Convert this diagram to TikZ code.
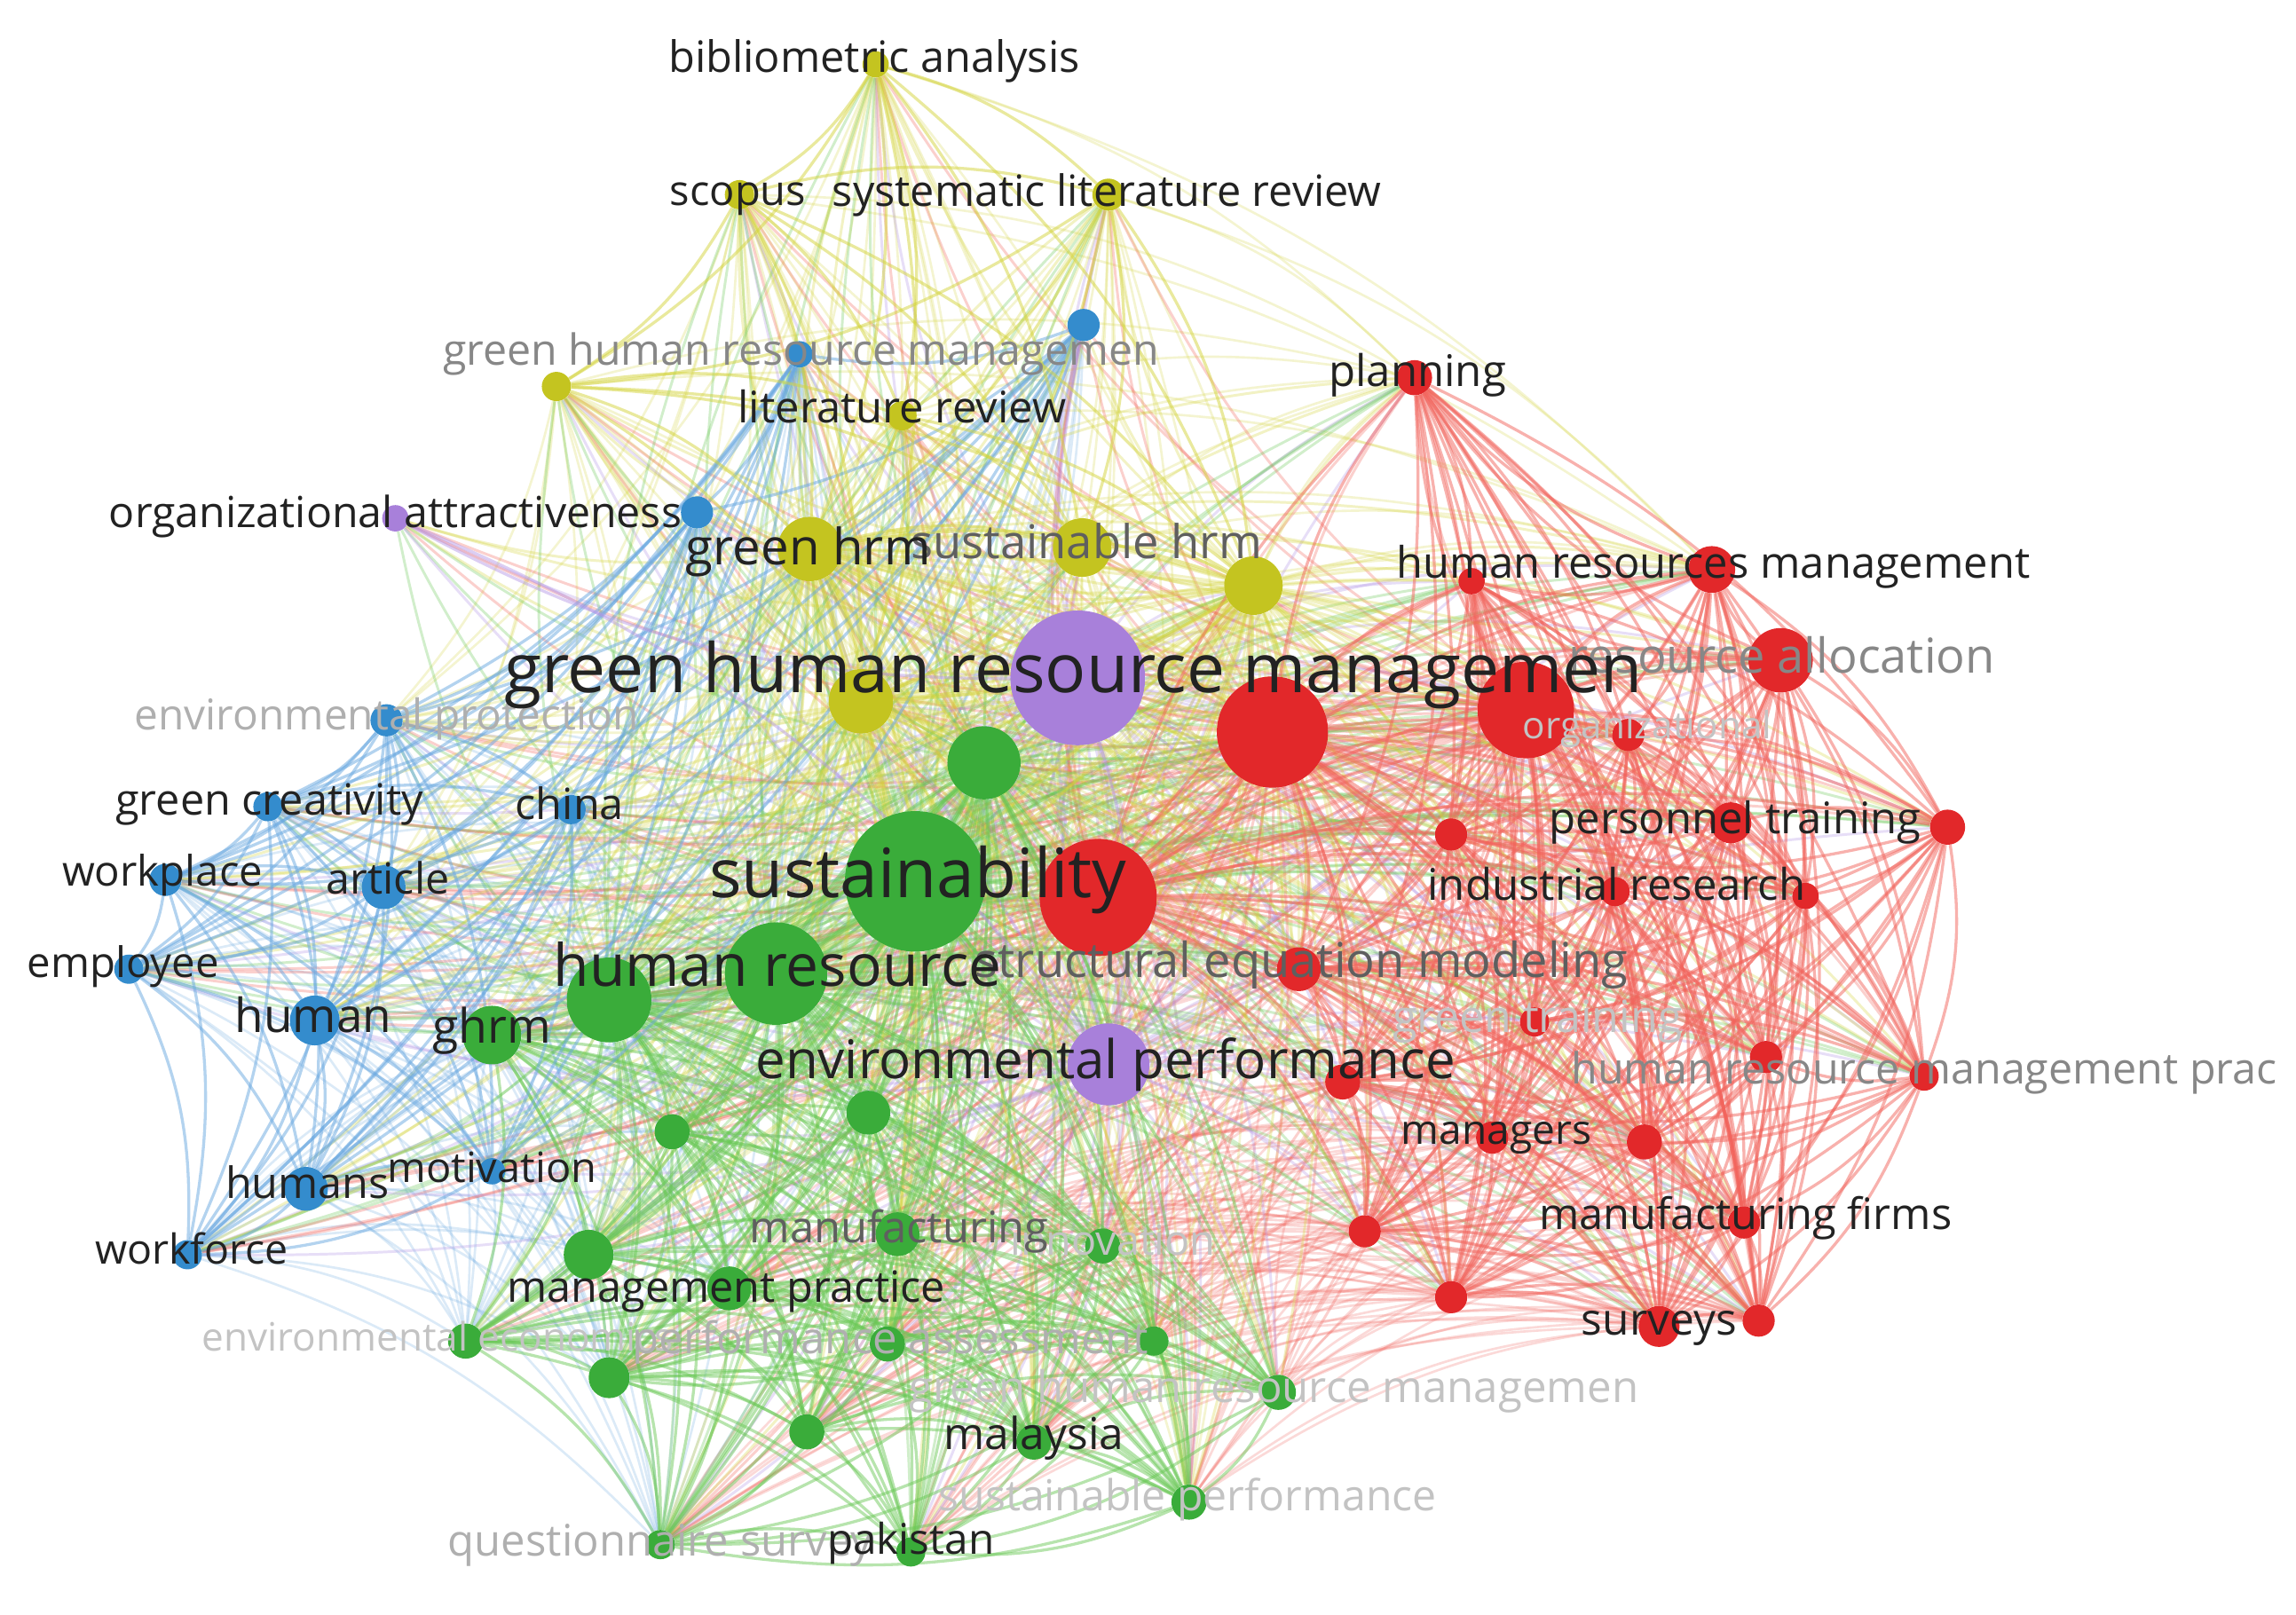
\documentclass[tikz,border=0pt]{standalone}
\usepackage{fontspec}
\usepackage{graphicx}
\setmainfont{Open Sans}
\pgfdeclarelayer{bg}
\pgfdeclarelayer{edges}
\pgfdeclarelayer{labels}
\pgfsetlayers{bg,edges,main,labels}
\definecolor{cR}{RGB}{226,40,42}
\definecolor{cG}{RGB}{58,172,58}
\definecolor{cB}{RGB}{52,140,205}
\definecolor{cY}{RGB}{196,196,32}
\definecolor{cP}{RGB}{168,128,218}
\definecolor{eR}{RGB}{242,100,92}
\definecolor{eG}{RGB}{105,200,85}
\definecolor{eB}{RGB}{105,168,225}
\definecolor{eY}{RGB}{212,212,60}
\definecolor{eP}{RGB}{178,148,230}
\definecolor{tDark}{RGB}{34,34,34}
\definecolor{tMid}{RGB}{95,95,95}
\definecolor{tGrey}{RGB}{135,135,135}
\definecolor{tLight}{RGB}{175,175,175}
\definecolor{tFaint}{RGB}{195,195,195}
\tikzset{
  kw/.style={circle,inner sep=0pt,draw=none},
  rn/.style={kw,fill=cR},
  gn/.style={kw,fill=cG},
  bn/.style={kw,fill=cB},
  yn/.style={kw,fill=cY},
  pn/.style={kw,fill=cP},
  rE/.style={draw=eR,line width=2pt,draw opacity=0.5},
  gE/.style={draw=eG,line width=2pt,draw opacity=0.48},
  bE/.style={draw=eB,line width=2pt,draw opacity=0.5},
  yE/.style={draw=eY,line width=2pt,draw opacity=0.5},
  pE/.style={draw=eP,line width=2pt,draw opacity=0.45},
  hubE/.style={line width=1.8pt,draw opacity=0.3},
  crossE/.style={line width=1.6pt,draw opacity=0.24},
  lbl/.style={inner sep=0pt,text=tDark},
}
\def\Ylist{ya,yb,yc,yd,ye,yf,yg,yh,yi}
\def\Plist{pa,pb,pc}
\def\Blist{ba,bb,bc,bd,be,bf,bg,bh,bi,bj,bk,bl,bm}
\def\Glist{ga,gb,gc,gd,ge,gf,gg,gh,gi,gj,gk,gl,gm,gn,go,gp,gq,gr,gs,gt,gu}
\def\Rlist{ra,rb,rc,rd,re,rf,rg,rh,ri,rj,rk,rl,rm,rn,ro,rp,rq,rr,rs,rt,ru,rv,rw,rx,ry}
\def\Alllist{ya,yb,yc,yd,ye,yf,yg,yh,yi,pa,pb,pc,ba,bb,bc,bd,be,bf,bg,bh,bi,bj,bk,bl,bm,ga,gb,gc,gd,ge,gf,gg,gh,gi,gj,gk,gl,gm,gn,go,gp,gq,gr,gs,gt,gu,ra,rb,rc,rd,re,rf,rg,rh,ri,rj,rk,rl,rm,rn,ro,rp,rq,rr,rs,rt,ru,rv,rw,rx,ry}
\def\RlowList{rr,rs,rt,ru,rv,rw,rx,ry,rn,ro}
\def\GlowList{gi,gk,gm,gn,go,gp,gq,gr,gs,gt,gu,gj}
\newcommand\lab[5]{\node[lbl,text=#5] at (#1,#2) {\resizebox{#3pt}{!}{\vphantom{hg}#4}};}
\begin{document}
\begin{tikzpicture}[x=1pt,y=-1pt]
\begin{pgfonlayer}{bg}
\fill[white] (0,0) rectangle (1568,1103);
\end{pgfonlayer}
\useasboundingbox (0,0) rectangle (1568,1103);
% ---------- nodes ----------
% yellow
\node[yn,minimum size=18pt] (ya) at (598,44) {};
\node[yn,minimum size=20pt] (yb) at (505,133) {};
\node[yn,minimum size=22pt] (yc) at (757,133) {};
\node[yn,minimum size=20pt] (yd) at (380,264) {};
\node[yn,minimum size=20pt] (ye) at (616,284) {};
\node[yn,minimum size=44pt] (yf) at (553,375) {};
\node[yn,minimum size=40pt] (yg) at (739,374) {};
\node[yn,minimum size=40pt] (yh) at (856,400) {};
\node[yn,minimum size=44pt] (yi) at (588,479) {};
% purple
\node[pn,minimum size=92pt] (pa) at (736,463) {};
\node[pn,minimum size=18pt] (pb) at (270,354) {};
\node[pn,minimum size=56pt] (pc) at (757,727) {};
% blue
\node[bn,minimum size=22pt] (ba) at (740,222) {};
\node[bn,minimum size=18pt] (bb) at (546,242) {};
\node[bn,minimum size=22pt] (bc) at (476,350) {};
\node[bn,minimum size=22pt] (bd) at (264,492) {};
\node[bn,minimum size=20pt] (be) at (183,551) {};
\node[bn,minimum size=20pt] (bf) at (390,553) {};
\node[bn,minimum size=22pt] (bg) at (113,601) {};
\node[bn,minimum size=30pt] (bh) at (262,606) {};
\node[bn,minimum size=20pt] (bi) at (88,662) {};
\node[bn,minimum size=34pt] (bj) at (215,697) {};
\node[bn,minimum size=30pt] (bk) at (209,812) {};
\node[bn,minimum size=18pt] (bl) at (336,800) {};
\node[bn,minimum size=20pt] (bm) at (128,857) {};
% green
\node[gn,minimum size=96pt] (ga) at (625,602) {};
\node[gn,minimum size=70pt] (gb) at (530,665) {};
\node[gn,minimum size=50pt] (gc) at (672,521) {};
\node[gn,minimum size=40pt] (gd) at (336,707) {};
\node[gn,minimum size=58pt] (ge) at (416,683) {};
\node[gn,minimum size=24pt] (gf) at (459,773) {};
\node[gn,minimum size=30pt] (gg) at (593,760) {};
\node[gn,minimum size=34pt] (gh) at (402,857) {};
\node[gn,minimum size=30pt] (gi) at (613,843) {};
\node[gn,minimum size=30pt] (gj) at (498,880) {};
\node[gn,minimum size=24pt] (gk) at (753,851) {};
\node[gn,minimum size=24pt] (gl) at (318,916) {};
\node[gn,minimum size=24pt] (gm) at (606,918) {};
\node[gn,minimum size=28pt] (gn) at (416,941) {};
\node[gn,minimum size=24pt] (go) at (551,978) {};
\node[gn,minimum size=24pt] (gp) at (706,985) {};
\node[gn,minimum size=24pt] (gq) at (873,951) {};
\node[gn,minimum size=20pt] (gr) at (788,916) {};
\node[gn,minimum size=24pt] (gs) at (812,1026) {};
\node[gn,minimum size=20pt] (gt) at (451,1055) {};
\node[gn,minimum size=20pt] (gu) at (622,1060) {};
% red
\node[rn,minimum size=76pt] (ra) at (869,500) {};
\node[rn,minimum size=80pt] (rb) at (750,613) {};
\node[rn,minimum size=66pt] (rc) at (1042,485) {};
\node[rn,minimum size=44pt] (rd) at (1216,451) {};
\node[rn,minimum size=32pt] (re) at (1169,389) {};
\node[rn,minimum size=24pt] (rf) at (966,258) {};
\node[rn,minimum size=18pt] (rg) at (1005,397) {};
\node[rn,minimum size=22pt] (rh) at (1112,502) {};
\node[rn,minimum size=28pt] (ri) at (1182,562) {};
\node[rn,minimum size=24pt] (rj) at (1330,565) {};
\node[rn,minimum size=22pt] (rk) at (991,570) {};
\node[rn,minimum size=20pt] (rl) at (1103,609) {};
\node[rn,minimum size=18pt] (rm) at (1233,612) {};
\node[rn,minimum size=30pt] (rn) at (887,662) {};
\node[rn,minimum size=20pt] (ro) at (1048,698) {};
\node[rn,minimum size=20pt] (rp) at (1314,735) {};
\node[rn,minimum size=22pt] (rq) at (1206,722) {};
\node[rn,minimum size=24pt] (rr) at (917,739) {};
\node[rn,minimum size=22pt] (rs) at (1019,777) {};
\node[rn,minimum size=24pt] (rt) at (1123,780) {};
\node[rn,minimum size=22pt] (ru) at (1191,835) {};
\node[rn,minimum size=22pt] (rv) at (932,841) {};
\node[rn,minimum size=22pt] (rw) at (991,886) {};
\node[rn,minimum size=28pt] (rx) at (1133,906) {};
\node[rn,minimum size=22pt] (ry) at (1201,902) {};
% ---------- connectors ----------
\begin{pgfonlayer}{edges}
\foreach \a in \Blist {\foreach \b in {ga,gb,gd,ge,gf,gh,gj,gl,gn,gt} {\draw[bE,crossE] (\a) to[bend left=14] (\b);}}
\foreach \a in \Ylist {\foreach \b in {ga,gb,gd,ge,gg,gh,gi,gm,gp,gs,bd,bh,bj,re,rf,rn,pc} {\draw[yE,crossE] (\a) to[bend left=14] (\b);}}
\foreach \a in \RlowList {\foreach \b in \GlowList {\draw[rE,crossE] (\a) to[bend right=16] (\b);}}
\foreach \h/\s in {pa/pE,ga/gE,gb/gE,ra/rE,rb/rE,rc/rE,pc/pE,gc/gE,yi/yE,yf/yE,ge/gE,yh/yE} {
  \foreach \n in \Alllist {
    \edef\tmpA{\h}\edef\tmpB{\n}
    \ifx\tmpA\tmpB\else\draw[\s,hubE] (\h) to[bend left=12] (\n);\fi
  }
}
\foreach \a [count=\i] in \Rlist {\foreach \b [count=\j] in \Rlist {\ifnum\j>\i \draw[rE] (\a) to[bend left=14] (\b);\fi}}
\foreach \a [count=\i] in \Glist {\foreach \b [count=\j] in \Glist {\ifnum\j>\i \draw[gE] (\a) to[bend left=14] (\b);\fi}}
\foreach \a [count=\i] in \Blist {\foreach \b [count=\j] in \Blist {\ifnum\j>\i \draw[bE] (\a) to[bend left=14] (\b);\fi}}
\foreach \a [count=\i] in \Ylist {\foreach \b [count=\j] in \Ylist {\ifnum\j>\i \draw[yE] (\a) to[bend left=14] (\b);\fi}}
\foreach \a [count=\i] in \Plist {\foreach \b [count=\j] in \Plist {\ifnum\j>\i \draw[pE] (\a) to[bend left=14] (\b);\fi}}
\end{pgfonlayer}
% ---------- labels ----------
\begin{pgfonlayer}{labels}
\lab{597}{42}{281}{bibliometric analysis}{tDark}
\lab{504}{133}{93}{scopus}{tDark}
\lab{756}{133}{375}{systematic literature review}{tDark}
\lab{547}{242}{489}{green human resource managemen}{tGrey}
\lab{616}{281}{224}{literature review}{tDark}
\lab{270}{353}{391}{organizational attractiveness}{tDark}
\lab{742}{373}{240}{sustainable hrm}{tMid}
\lab{552}{377}{167}{green hrm}{tDark}
\lab{968}{256}{121}{planning}{tDark}
\lab{1170}{387}{433}{human resources management}{tDark}
\lab{1217}{451}{291}{resource allocation}{tGrey}
\lab{264}{491}{344}{environmental protection}{tLight}
\lab{1125}{498}{170}{organizational}{tFaint}
\lab{733}{461}{777}{green human resource managemen}{tDark}
\lab{184}{549}{210}{green creativity}{tDark}
\lab{389}{552}{74}{china}{tDark}
\lab{1185}{562}{254}{personnel training}{tDark}
\lab{111}{598}{137}{workplace}{tDark}
\lab{265}{603}{84}{article}{tDark}
\lab{1104}{607}{258}{industrial research}{tDark}
\lab{627}{601}{285}{sustainability}{tDark}
\lab{84}{660}{131}{employee}{tDark}
\lab{889}{659}{446}{structural equation modeling}{tMid}
\lab{531}{663}{306}{human resource}{tDark}
\lab{214}{697}{107}{human}{tDark}
\lab{1050}{697}{198}{green training}{tFaint}
\lab{336}{704}{81}{ghrm}{tDark}
\lab{755}{727}{478}{environmental performance}{tDark}
\lab{1314}{733}{482}{human resource management prac}{tGrey}
\lab{1022}{774}{130}{managers}{tDark}
\lab{210}{811}{112}{humans}{tDark}
\lab{336}{800}{143}{motivation}{tDark}
\lab{131}{856}{132}{workforce}{tDark}
\lab{760}{850}{140}{innovation}{tFaint}
\lab{614}{841}{204}{manufacturing}{tMid}
\lab{1192}{832}{282}{manufacturing firms}{tDark}
\lab{496}{882}{299}{management practice}{tDark}
\lab{1133}{904}{106}{surveys}{tDark}
\lab{299}{916}{322}{environmental economics}{tFaint}
\lab{608}{917}{352}{performance assessment}{tLight}
\lab{870}{950}{498}{green human resource managemen}{tFaint}
\lab{706}{982}{123}{malaysia}{tDark}
\lab{811}{1024}{340}{sustainable performance}{tFaint}
\lab{451}{1055}{290}{questionnaire survey}{tLight}
\lab{622}{1054}{114}{pakistan}{tDark}
\end{pgfonlayer}
\end{tikzpicture}
\end{document}
